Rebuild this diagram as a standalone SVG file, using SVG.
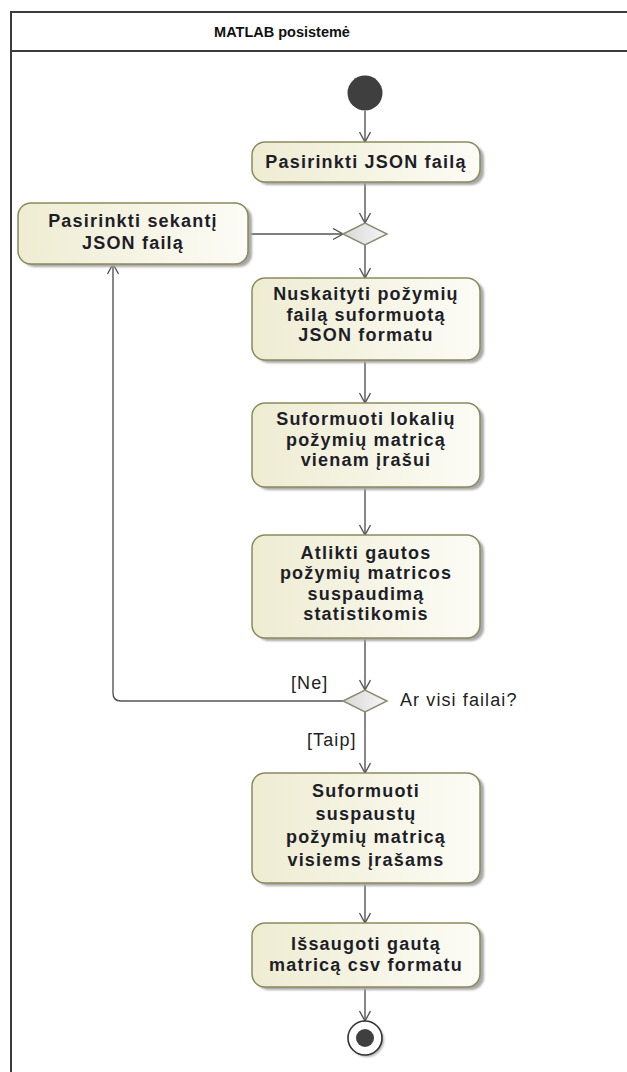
<svg xmlns="http://www.w3.org/2000/svg" width="627" height="1072" viewBox="0 0 627 1072">
  <defs>
    <linearGradient id="actFill" x1="0" y1="0" x2="1" y2="0">
      <stop offset="0" stop-color="#eeecd2"/>
      <stop offset="1" stop-color="#fcfcf6"/>
    </linearGradient>
    <linearGradient id="decFill" x1="0" y1="0" x2="1" y2="0">
      <stop offset="0" stop-color="#d8d8d8"/>
      <stop offset="1" stop-color="#f6f6f6"/>
    </linearGradient>
    <filter id="soft" x="-10%" y="-10%" width="130%" height="130%">
      <feGaussianBlur stdDeviation="1.2"/>
    </filter>
    <marker id="arrow" markerUnits="userSpaceOnUse" markerWidth="14" markerHeight="14" refX="11" refY="6" orient="auto">
      <path d="M1,0.5 L11,6 L1,11.5" fill="none" stroke="#555" stroke-width="1.4"/>
    </marker>
  </defs>
  <style>
    .frame { fill: none; stroke: #3c3c3c; stroke-width: 2; }
    .title { font-family: "Liberation Sans", Arial, sans-serif; font-weight: bold; font-size: 14.5px; fill: #111; text-anchor: middle; }
    .act { fill: url(#actFill); stroke: #8b8a5e; stroke-width: 1.5; }
    .shadow { fill: #a8a8a8; filter: url(#soft); }
    .label { font-family: "Liberation Sans", Arial, sans-serif; font-weight: bold; font-size: 18px; letter-spacing: 1.2px; fill: #1e1e28; text-anchor: middle; }
    .dec { fill: url(#decFill); stroke: #8d8c72; stroke-width: 1.5; }
    .guard { font-family: "Liberation Sans", Arial, sans-serif; font-size: 18px; letter-spacing: 1.1px; fill: #222; }
    .edge { fill: none; stroke: #555; stroke-width: 1.4; marker-end: url(#arrow); }
    .dot { fill: #3f3f3f; }
  </style>

  <rect width="627" height="1072" fill="#ffffff"/>

  <!-- partition frame -->
  <g id="partition">
    <path class="frame" d="M11,1080 V12 H640"/>
    <path class="frame" d="M11,51 H640"/>
    <text class="title" x="282" y="37">MATLAB posistemė</text>
  </g>

  <!-- connectors -->
  <g id="connectors">
    <path class="edge" d="M365,111 V142"/>
    <path class="edge" d="M365,182 V223"/>
    <path class="edge" d="M248,234 H343"/>
    <path class="edge" d="M365,245 V278"/>
    <path class="edge" d="M365,360 V403"/>
    <path class="edge" d="M365,487 V535"/>
    <path class="edge" d="M365,638 V690"/>
    <path class="edge" d="M343,701 H121 Q113,701 113,693 V264"/>
    <path class="edge" d="M365,712 V773"/>
    <path class="edge" d="M365,883 V923"/>
    <path class="edge" d="M365,987 V1021"/>
    <text class="guard" x="291" y="689">[Ne]</text>
    <text class="guard" x="400" y="706">Ar visi failai?</text>
    <text class="guard" x="307" y="746">[Taip]</text>
  </g>

  <!-- start -->
  <g id="start">
    <circle class="dot" cx="365" cy="93" r="17.5"/>
  </g>

  <g id="pasirinkti-json">
    <rect class="shadow" x="256" y="145" width="228" height="40" rx="13"/>
    <rect class="act" x="252" y="142" width="228" height="40" rx="13"/>
    <text class="label" x="366" y="168">Pasirinkti JSON failą</text>
  </g>

  <g id="merge">
    <path class="dec" d="M343,234 L365,223 L387,234 L365,245 Z"/>
  </g>

  <g id="pasirinkti-sekanti">
    <rect class="shadow" x="22" y="206" width="230" height="61" rx="13"/>
    <rect class="act" x="18" y="203" width="230" height="61" rx="13"/>
    <text class="label" x="133" y="227">Pasirinkti sekantį</text>
    <text class="label" x="133" y="249">JSON failą</text>
  </g>

  <g id="nuskaityti">
    <rect class="shadow" x="256" y="281" width="228" height="82" rx="13"/>
    <rect class="act" x="252" y="278" width="228" height="82" rx="13"/>
    <text class="label" x="366" y="300">Nuskaityti požymių</text>
    <text class="label" x="366" y="321">failą suformuotą</text>
    <text class="label" x="366" y="341">JSON formatu</text>
  </g>

  <g id="lokaliu-matrica">
    <rect class="shadow" x="256" y="406" width="228" height="84" rx="13"/>
    <rect class="act" x="252" y="403" width="228" height="84" rx="13"/>
    <text class="label" x="366" y="425">Suformuoti lokalių</text>
    <text class="label" x="366" y="446">požymių matricą</text>
    <text class="label" x="366" y="466">vienam įrašui</text>
  </g>

  <g id="suspaudimas">
    <rect class="shadow" x="256" y="538" width="228" height="103" rx="13"/>
    <rect class="act" x="252" y="535" width="228" height="103" rx="13"/>
    <text class="label" x="366" y="559">Atlikti gautos</text>
    <text class="label" x="366" y="579">požymių matricos</text>
    <text class="label" x="366" y="600">suspaudimą</text>
    <text class="label" x="366" y="620">statistikomis</text>
  </g>

  <g id="ar-visi-failai">
    <path class="dec" d="M343,701 L365,690 L387,701 L365,712 Z"/>
  </g>

  <g id="suspaustu-matrica">
    <rect class="shadow" x="256" y="776" width="228" height="110" rx="13"/>
    <rect class="act" x="252" y="773" width="228" height="110" rx="13"/>
    <text class="label" x="366" y="797">Suformuoti</text>
    <text class="label" x="366" y="820">suspaustų</text>
    <text class="label" x="366" y="843">požymių matricą</text>
    <text class="label" x="366" y="866">visiems įrašams</text>
  </g>

  <g id="issaugoti">
    <rect class="shadow" x="256" y="926" width="228" height="64" rx="13"/>
    <rect class="act" x="252" y="923" width="228" height="64" rx="13"/>
    <text class="label" x="366" y="950">Išsaugoti gautą</text>
    <text class="label" x="366" y="971">matricą csv formatu</text>
  </g>

  <!-- end -->
  <g id="end">
    <circle cx="367" cy="1040" r="17" fill="#b0b0b0" filter="url(#soft)"/>
    <circle cx="365" cy="1038" r="17" fill="#ffffff" stroke="#333" stroke-width="1.6"/>
    <circle class="dot" cx="365" cy="1038" r="9"/>
  </g>
</svg>
